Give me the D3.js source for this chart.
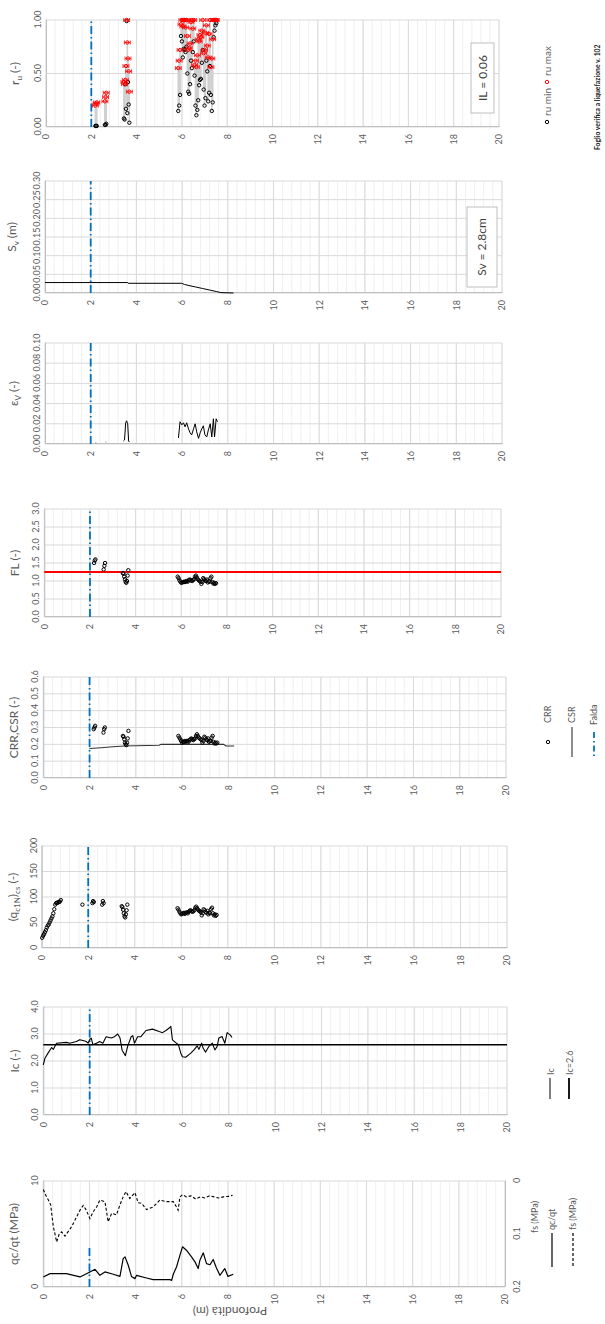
<!DOCTYPE html>
<html><head><meta charset="utf-8">
<script src="https://cdn.jsdelivr.net/npm/d3@7"></script>
<style>
body{margin:0;background:#fff}
text{font-family:Lato,"Open Sans","Liberation Sans",sans-serif}
</style></head>
<body><svg id="c" width="605" height="1324"></svg>
<script>
// ---------------- DATA ----------------
const depthTicks = [0,2,4,6,8,10,12,14,16,18,20];
const faldaDepth = 2.0;

// liquefiable points (shared depths)
const ptDepth = [2.18,2.21,2.24, 2.60,2.63,2.66,
 3.44,3.47,3.50,3.53,3.56,3.59,3.62,3.65,3.68,
 5.84,5.88,5.92,5.96,
 6.00,6.04,6.08,6.12,6.16,6.20,6.24,6.28,6.32,6.36,6.40,6.44,6.48,6.52,6.56,6.60,6.64,6.68,6.72,6.76,6.80,6.84,6.88,6.92,6.96,
 7.00,7.04,7.08,7.12,7.16,7.20,7.24,7.28,7.32,7.36,7.40,7.44,7.48,7.52];
const ruMin = [0.01,0.01,0.01, 0.02,0.02,0.03,
 0.08,0.07,0.40,0.17,0.99,0.13,0.42,0.21,0.04,
 0.15,0.20,0.30,0.85,
 0.80,0.65,0.73,0.72,0.70,0.75,0.50,0.33,0.31,0.40,0.62,0.55,0.70,0.80,0.48,0.20,0.11,0.16,0.25,0.39,0.44,0.45,0.60,0.72,0.35,
 0.20,0.27,0.62,0.52,0.24,0.32,0.57,0.30,0.15,0.23,0.84,0.90,0.95,0.97];
const ruMax = [0.20,0.22,0.23, 0.24,0.28,0.32,
 0.42,0.40,0.44,0.57,1.00,0.79,0.64,0.52,0.33,
 0.55,0.62,0.72,0.96,
 1.00,0.94,1.00,1.00,0.93,1.00,0.85,0.72,0.74,0.78,0.98,1.00,0.92,1.00,0.58,0.62,0.56,0.67,0.82,0.80,0.86,0.84,0.90,1.00,0.69,
 0.72,0.88,0.95,0.76,0.65,0.87,1.00,0.56,0.64,0.82,1.00,1.00,1.00,1.00];
const FL = [1.50,1.57,1.60, 1.32,1.42,1.50,
 1.22,1.20,1.12,1.05,0.98,0.95,1.00,1.15,1.30,
 1.12,1.08,1.02,0.98,
 0.95,0.96,0.97,0.98,0.97,0.99,1.00,0.98,1.02,1.04,1.03,1.01,1.00,1.03,1.05,1.12,1.15,1.10,1.05,1.02,1.00,0.98,0.92,0.97,1.08,
 1.05,1.02,1.00,1.04,0.96,0.99,0.98,1.08,1.12,0.97,0.93,0.95,0.92,0.94];
const CRR = [0.29,0.30,0.31, 0.27,0.29,0.30,
 0.25,0.245,0.23,0.21,0.20,0.195,0.21,0.235,0.28,
 0.25,0.24,0.23,0.22,
 0.21,0.215,0.215,0.22,0.215,0.22,0.22,0.215,0.225,0.23,0.235,0.23,0.225,0.23,0.235,0.25,0.26,0.25,0.24,0.235,0.23,0.225,0.21,0.22,0.245,
 0.24,0.23,0.225,0.235,0.215,0.22,0.22,0.24,0.25,0.215,0.205,0.21,0.205,0.21];
const qc1Ncs = [88,92,90, 85,92,88,
 82,80,75,68,62,60,66,74,85,
 78,75,71,68,
 66,67,68,69,67,69,70,68,71,73,74,72,71,72,74,79,81,78,75,73,72,70,64,68,76,
 74,71,69,73,66,69,68,76,79,68,64,66,63,65];
// shallow qc1N points (above falda)
const qcnTopDepth = [0.02,0.06,0.10,0.14,0.18,0.22,0.26,0.30,0.34,0.38,0.42,0.46,0.50,0.54,0.58,0.62,0.66,0.70,0.74,0.78,0.82,1.75];
const qcnTop      = [20,24,27,31,35,40,44,46,50,54,58,62,68,76,85,88,89,89,90,91,94,85];

// CSR line
const csrDepth = [2.0,2.5,3.0,3.5,4.0,5.0,5.1,7.8,7.9,8.25];
const csrVal   = [0.175,0.18,0.186,0.19,0.192,0.195,0.2,0.2,0.19,0.19];

// settlement Sv (m)
const svDepth = [0,3.62,3.64,5.98,6.1,6.3,6.6,6.9,7.2,7.5,7.7,8.25];
const svVal   = [0.028,0.028,0.026,0.026,0.023,0.020,0.016,0.012,0.008,0.004,0.001,0.0];

// volumetric strain (null = gap)
const evDepth = [2.22,2.24,null,2.66,2.68,null,3.43,3.48,3.53,3.57,3.62,3.66,3.69,null,
 5.84,5.91,5.99,6.06,6.13,6.20,6.28,6.35,6.42,6.50,6.57,6.64,6.72,6.79,6.86,6.93,7.00,7.08,7.15,7.23,7.30,7.37,7.42,7.49,7.55];
const evVal   = [0.0012,0.0012,null,0.002,0.002,null,0.003,0.004,0.021,0.023,0.020,0.003,0.002,null,
 0.006,0.022,0.019,0.021,0.017,0.021,0.015,0.011,0.009,0.015,0.020,0.012,0.0056,0.011,0.015,0.018,0.009,0.007,0.014,0.020,0.007,0.025,0.007,0.025,0.022];

// Ic
const icDepth = [0,0.07,0.21,0.36,0.43,0.57,1.0,1.14,1.43,1.57,1.71,1.86,1.93,2.0,2.07,2.14,2.29,2.43,2.57,2.71,2.93,3.07,3.21,3.31,3.4,3.54,3.64,3.79,3.86,3.93,4.07,4.21,4.43,4.71,5.0,5.14,5.29,5.43,5.5,5.57,5.71,5.83,5.93,6.0,6.14,6.36,6.5,6.64,6.71,6.83,6.89,7.0,7.14,7.29,7.4,7.5,7.57,7.71,7.83,7.93,8.07,8.14];
const icVal   = [1.86,2.1,2.3,2.5,2.43,2.66,2.69,2.66,2.72,2.79,2.76,2.72,2.66,2.79,2.85,2.6,2.66,2.72,2.66,2.9,2.85,2.9,3.0,2.85,2.4,2.2,2.55,2.9,2.94,2.66,2.9,2.9,3.13,3.18,3.09,3.05,3.13,3.22,3.28,2.78,2.68,2.6,2.29,2.16,2.14,2.29,2.41,2.56,2.43,2.66,2.48,2.33,2.54,2.66,2.41,2.54,2.85,2.91,2.66,3.05,2.96,2.87];
const icLimit = 2.6;

// qc and fs
const qcDepth = [0,0.29,1.0,1.59,2.02,2.24,2.45,2.67,3.03,3.32,3.46,3.54,3.68,3.82,3.97,4.04,4.47,4.76,5.48,5.56,5.63,5.77,5.92,6.03,6.2,6.42,6.57,6.71,6.78,6.93,7.07,7.22,7.36,7.5,7.65,7.86,8.0,8.23];
const qcVal   = [0.95,1.26,1.26,0.95,1.42,1.67,1.1,1.42,1.2,1.0,2.68,2.84,2.05,1.0,0.79,1.1,0.85,0.69,0.69,0.63,1.2,1.89,3.0,3.79,3.47,2.84,2.37,1.74,2.5,3.22,2.2,2.1,2.6,1.8,1.1,1.74,1.0,1.2];
const fsDepth = [0,0.14,0.22,0.32,0.43,0.58,0.69,0.79,0.94,1.23,1.59,1.73,1.85,2.02,2.16,2.31,2.45,2.67,2.81,2.96,3.17,3.32,3.46,3.58,3.75,3.97,4.11,4.26,4.47,4.76,5.05,5.34,5.63,5.77,5.84,5.92,6.03,6.2,6.4,6.6,6.8,7.0,7.2,7.4,7.6,7.8,8.0,8.2];
const fsVal   = [0.016,0.03,0.036,0.045,0.085,0.115,0.1,0.096,0.104,0.086,0.055,0.046,0.054,0.071,0.058,0.049,0.036,0.039,0.077,0.061,0.064,0.045,0.03,0.02,0.033,0.022,0.041,0.042,0.054,0.049,0.036,0.039,0.039,0.049,0.055,0.03,0.026,0.03,0.028,0.034,0.03,0.032,0.028,0.03,0.032,0.03,0.029,0.027];

// tick labels
const ruTicks = [0,0.5,1.0];
const svTicks = [0,0.05,0.10,0.15,0.20,0.25,0.30];
const evTicks = [0,0.02,0.04,0.06,0.08,0.10];
const flTicks = [0,0.5,1.0,1.5,2.0,2.5,3.0];
const crrTicks = [0,0.1,0.2,0.3,0.4,0.5,0.6];
const qcnTicks = [0,50,100,150,200];
const icTicks = [0,1,2,3,4];
const qcTicks = [0,10];
const fsTicks = [0,0.1,0.2];
const flLimit = 1.25;

// ---------------- DRAW ----------------
const H = 1324;
const svg = d3.select('#c');
// rotated frame: u (horizontal) -> page y = H - u ; v (vertical) -> page x = v
const root = svg.append('g').attr('transform', `translate(0,${H}) rotate(-90)`);
const TXT = '#595959', GMAJ = '#d9d9d9', GMIN = '#f0f0f0', BLUE = '#0070C0';

function makePanel(p){
  const g = root.append('g');
  const uL = H - p.yBot, uR = H - p.yTop;
  const dep = d3.scaleLinear().domain([0,20]).range([p.x0, p.x20]);
  const val = d3.scaleLinear().domain(p.dom).range([uL, uR]);
  const minor = d3.range(0, 20.001, 0.4);
  g.append('g').selectAll('line').data(minor).join('line')
    .attr('x1', uL).attr('x2', uR).attr('y1', d=>dep(d)).attr('y2', d=>dep(d))
    .attr('stroke', GMIN).attr('stroke-width', 1);
  g.append('g').selectAll('line').data(depthTicks).join('line')
    .attr('x1', uL).attr('x2', uR).attr('y1', d=>dep(d)).attr('y2', d=>dep(d))
    .attr('stroke', GMAJ).attr('stroke-width', 1);
  g.append('g').selectAll('line').data(p.grid || p.ticks).join('line')
    .attr('x1', d=>val(d)).attr('x2', d=>val(d)).attr('y1', p.x0).attr('y2', p.x20)
    .attr('stroke', GMAJ).attr('stroke-width', 1);
  const ax = g.append('g').attr('transform', `translate(0,${p.x0})`)
    .call(d3.axisTop(val).tickValues(p.ticks).tickFormat(p.fmt).tickSize(0).tickPadding(p.pad||5));
  ax.select('.domain').attr('stroke', '#bfbfbf');
  ax.selectAll('text').attr('fill', TXT).attr('font-size', 9);
  const ay = g.append('g').attr('transform', `translate(${uL},0)`)
    .call(d3.axisLeft(dep).tickValues(depthTicks).tickFormat(d3.format('d')).tickSize(0).tickPadding(7));
  ay.select('.domain').attr('stroke', '#bfbfbf');
  ay.selectAll('text').attr('fill', TXT).attr('font-size', 9);
  if (p.title){
    const t = g.append('text').attr('x', (uL+uR)/2 + (p.titleShift||0)).attr('y', p.titleV)
      .attr('text-anchor','middle').attr('fill', TXT).attr('font-size', 12);
    p.title(t);
  }
  const fr = p.faldaRange || p.dom;
  g.append('line').attr('x1', val(fr[0])).attr('x2', val(fr[1]))
    .attr('y1', dep(faldaDepth)).attr('y2', dep(faldaDepth))
    .attr('stroke', BLUE).attr('stroke-width', 1.8).attr('stroke-dasharray', '8,3,1.5,3');
  return {g, dep, val, uL, uR};
}
function sub(t, main, s, rest){
  t.append('tspan').text(main);
  t.append('tspan').text(s).attr('font-size', 8).attr('dy', 3);
  t.append('tspan').text(rest).attr('dy', -3);
}
function pts(depths, vals){
  return depths.map((d,i)=>({d, v: vals[i]}));
}
function circles(P, data, color){
  P.g.append('g').selectAll('circle').data(data).join('circle')
    .attr('cx', d=>P.val(d.v)).attr('cy', d=>P.dep(d.d)).attr('r', 1.7)
    .attr('fill', 'none').attr('stroke', color).attr('stroke-width', 1);
}
function path(P, depths, vals, opts){
  const data = depths.map((d,i)=>({d, v: vals[i]}));
  const line = d3.line().defined(d=>d.d!==null && d.v!==null)
    .x(d=>P.val(d.v)).y(d=>P.dep(d.d));
  P.g.append('path').datum(data).attr('d', line)
    .attr('fill','none').attr('stroke', opts.color||'#000')
    .attr('stroke-width', opts.w||1.1).attr('stroke-dasharray', opts.dash||null)
    .attr('stroke-linejoin','round');
}

// Panel 1: ru
const P1 = makePanel({x0:46, x20:499, yTop:20, yBot:127, dom:[0,1], ticks:ruTicks,
  fmt:d3.format('.2f'), titleV:19, title:t=>{sub(t,'r','u',' (-)');}});
{
  const data = ptDepth.map((d,i)=>({d, a: ruMin[i], b: ruMax[i]}));
  P1.g.append('g').selectAll('line').data(data).join('line')
    .attr('x1', d=>P1.val(d.a)).attr('x2', d=>P1.val(d.b))
    .attr('y1', d=>P1.dep(d.d)).attr('y2', d=>P1.dep(d.d))
    .attr('stroke', '#cfcfcf').attr('stroke-width', 1.6);
  circles(P1, data.map(o=>({d:o.d, v:o.a})), '#000');
  const eb = P1.g.append('g').attr('stroke', '#ff0000').attr('stroke-width', 0.8);
  data.forEach(o=>{
    const u = P1.val(o.b), y1 = P1.dep(o.d-0.13), y2 = P1.dep(o.d+0.13);
    eb.append('line').attr('x1', u).attr('x2', u).attr('y1', y1).attr('y2', y2);
    eb.append('line').attr('x1', u-2).attr('x2', u+2).attr('y1', y2).attr('y2', y2);
    eb.append('line').attr('x1', u-2).attr('x2', u+2).attr('y1', y1).attr('y2', y1);
  });
  circles(P1, data.map(o=>({d:o.d, v:o.b})), '#ff0000');
}

// Panel 2: Sv
const P2 = makePanel({x0:45, x20:502, yTop:181, yBot:293, dom:[0,0.3], ticks:svTicks,
  fmt:d3.format('.2f'), titleV:16, title:t=>{sub(t,'S','v',' (m)');}});
path(P2, svDepth, svVal, {w:1});

// Panel 3: ev
const P3 = makePanel({x0:45, x20:502, yTop:343, yBot:444, dom:[0,0.1], ticks:evTicks,
  fmt:d3.format('.2f'), titleV:18, title:t=>{sub(t,'ε','V',' (-)');}});
path(P3, evDepth, evVal, {w:1});

// Panel 4: FL
const P4 = makePanel({x0:44.3, x20:501, yTop:509, yBot:617, dom:[0,3], ticks:flTicks,
  fmt:d3.format('.1f'), titleV:19, title:t=>{t.text('FL (-)');}});
P4.g.append('line').attr('x1', P4.val(flLimit)).attr('x2', P4.val(flLimit))
  .attr('y1', P4.dep(0)).attr('y2', P4.dep(20)).attr('stroke', '#ff0000').attr('stroke-width', 1.8);
circles(P4, pts(ptDepth, FL), '#000');

// Panel 5: CRR,CSR
const P5 = makePanel({x0:43.3, x20:506, yTop:677, yBot:778, dom:[0,0.6], ticks:crrTicks,
  fmt:d3.format('.1f'), titleV:18, title:t=>{t.text('CRR,CSR (-)');}});
path(P5, csrDepth, csrVal, {w:1.1, color:'#333'});
circles(P5, pts(ptDepth, CRR), '#000');

// Panel 6: qc1N cs
const P6 = makePanel({x0:41.7, x20:507, yTop:846, yBot:948, dom:[0,200], ticks:qcnTicks,
  fmt:d3.format('d'), titleV:17, title:t=>{
    t.append('tspan').text('(q');
    t.append('tspan').text('c1N').attr('font-size',8).attr('dy',3);
    t.append('tspan').text(')').attr('dy',-3);
    t.append('tspan').text('cs').attr('font-size',8).attr('dy',3);
    t.append('tspan').text(' (-)').attr('dy',-3);
  }});
circles(P6, pts(qcnTopDepth, qcnTop), '#000');
circles(P6, pts(ptDepth, qc1Ncs), '#000');

// Panel 7: Ic
const P7 = makePanel({x0:43.3, x20:507, yTop:1007, yBot:1115, dom:[0,4], ticks:icTicks,
  fmt:d3.format('.1f'), titleV:19, title:t=>{t.text('Ic (-)');}});
P7.g.append('line').attr('x1', P7.val(icLimit)).attr('x2', P7.val(icLimit))
  .attr('y1', P7.dep(0)).attr('y2', P7.dep(20)).attr('stroke', '#000').attr('stroke-width', 1.6);
path(P7, icDepth, icVal, {w:1.1});

// Panel 8: qc / fs
const P8 = makePanel({x0:43.3, x20:505, yTop:1181, yBot:1287, dom:[0,10], ticks:qcTicks,
  fmt:d3.format('d'), titleV:18, faldaRange:[0,3.8], title:t=>{t.text('qc/qt (MPa)');}});
const fsScale = d3.scaleLinear().domain([0,0.2]).range([P8.uR, P8.uL]);
{
  const ax = P8.g.append('g').attr('transform', `translate(0,${505})`)
    .call(d3.axisBottom(fsScale).tickValues(fsTicks).tickFormat(d=>d===0?'0':d3.format('.1f')(d)).tickSize(0).tickPadding(9));
  ax.select('.domain').attr('stroke', '#bfbfbf');
  ax.selectAll('text').attr('fill', TXT).attr('font-size', 9);
}
path(P8, qcDepth, qcVal, {w:1.2});
{
  const data = fsDepth.map((d,i)=>({d, v: fsVal[i]}));
  P8.g.append('path').datum(data)
    .attr('d', d3.line().x(d=>fsScale(d.v)).y(d=>P8.dep(d.d)))
    .attr('fill','none').attr('stroke','#000').attr('stroke-width',1.1).attr('stroke-dasharray','3,2');
}
// depth title (upside-down in page)
root.append('text').attr('x', H-1310).attr('y', 230).attr('text-anchor','middle')
  .attr('transform', `rotate(-90, ${H-1310}, 230)`)
  .attr('dominant-baseline','middle').attr('fill', TXT).attr('font-size', 12).text('Profondità (m)');

// ---------------- annotations & legends (page coords helpers) ----------------
function ptext(x, yBottom, str, size, opts={}){
  const t = root.append('text').attr('x', H - yBottom).attr('y', x + size*0.35)
    .attr('font-size', size).attr('fill', opts.fill||TXT)
    .attr('text-anchor', opts.anchor||'start').attr('font-weight', opts.bold?'bold':null).text(str);
  return t;
}
function box(x1, x2, y1, y2){
  root.append('rect').attr('x', H - y2).attr('y', x1).attr('width', y2 - y1).attr('height', x2 - x1)
    .attr('fill', '#fff').attr('stroke', '#bfbfbf').attr('stroke-width', 1);
}
function pline(x, y1, y2, opts){
  root.append('line').attr('x1', H - y1).attr('x2', H - y2).attr('y1', x).attr('y2', x)
    .attr('stroke', opts.color||'#000').attr('stroke-width', opts.w||1.5).attr('stroke-dasharray', opts.dash||null);
}
function pcircle(x, y, color){
  root.append('circle').attr('cx', H - y).attr('cy', x).attr('r', 1.7)
    .attr('fill','none').attr('stroke', color).attr('stroke-width', 1);
}
// IL box
box(471, 494, 43, 113);
ptext(482.5, 78, 'IL = 0.06', 12, {anchor:'middle', fill:'#404040'});
// Sv box
box(467, 497, 207, 287);
ptext(482, 247, 'Sv = 2.8cm', 12, {anchor:'middle', fill:'#404040'});

// ru legend
pcircle(547, 122, '#000');
ptext(547, 116, 'ru min', 10);
pcircle(547, 82, '#ff0000');
ptext(547, 76, 'ru max', 10);
// footnote
ptext(597.5, 150, 'Foglio verifica a liquefazione v. 102', 6.8, {bold:true, fill:'#222'});

// CRR legend
pcircle(548, 742, '#000');
ptext(548, 723, 'CRR', 9);
pline(572, 727, 757, {color:'#666', w:1.5});
ptext(572, 723, 'CSR', 9);
pline(594, 732, 757, {color:BLUE, w:1.8, dash:'6,3,1.5,3'});
ptext(594, 725, 'Falda', 9);

// Ic legend
pline(550, 1078, 1099, {w:1});
ptext(551, 1075, 'Ic', 9);
pline(569, 1078, 1099, {w:1.8});
ptext(570, 1075, 'Ic=2.6', 9);

// qc legend
ptext(535, 1233, 'fs (MPa)', 9, {});
pline(552, 1233, 1267, {w:1.2});
ptext(552, 1230, 'qc/qt', 9);
pline(573, 1233, 1267, {w:1.2, dash:'3,2'});
ptext(573, 1230, 'fs (MPa)', 9);
</script></body></html>
